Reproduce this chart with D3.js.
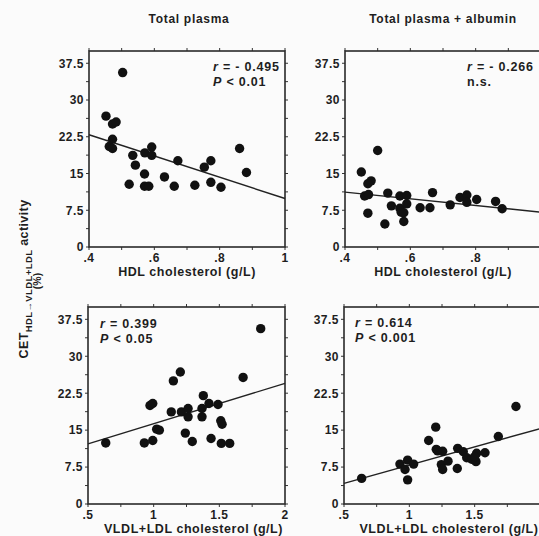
<!DOCTYPE html>
<html><head><meta charset="utf-8">
<script src="https://cdn.jsdelivr.net/npm/d3@7"></script>
<style>
html,body{margin:0;padding:0;background:#fbfbfb;}
svg{display:block;font-family:"Liberation Sans",Arial,sans-serif;font-weight:bold;}
</style></head>
<body><svg id="c" width="539" height="536"></svg>
<script>
// ---------- data ----------
const panelTitles = ["Total plasma", "Total plasma + albumin"];
const xTitleHDL = "HDL cholesterol (g/L)";
const xTitleVLDL = "VLDL+LDL cholesterol (g/L)";
const yTicks = [0, 7.5, 15, 22.5, 30, 37.5];
const hdlTicks = [0.4, 0.6, 0.8, 1];
const vldlTicks = [0.5, 1, 1.5, 2];

// Total plasma vs HDL
const tpHdlX = [.503,.452,.472,.483,.472,.462,.472,.534,.542,.523,.571,.592,.592,.570,.570,.583,.631,.672,.661,.724,.753,.773,.773,.804,.861,.882];
const tpHdlY = [35.6,26.7,25.1,25.5,22.0,20.5,20.1,18.7,16.7,12.8,19.2,20.4,18.7,14.9,12.4,12.4,14.3,17.6,12.4,12.6,16.3,17.6,13.2,12.2,20.1,15.2];
const tpHdlFit = [[0.4, 22.9], [1.0, 9.9]];
const tpHdlStats = ["r = - 0.495", "P < 0.01"];

// Total plasma + albumin vs HDL
const taHdlX = [.450,.500,.480,.470,.460,.472,.470,.522,.531,.542,.568,.589,.568,.572,.580,.580,.589,.630,.660,.668,.722,.752,.773,.773,.803,.861,.881];
const taHdlY = [15.3,19.7,13.5,12.9,10.4,10.7,6.9,4.7,11.0,8.4,10.4,10.5,7.9,7.1,7.0,5.2,8.8,8.0,8.0,11.1,8.6,10.1,10.6,9.1,9.7,9.3,7.8];
const taHdlFit = [[0.4, 11.2], [1.0, 7.1]];
const taHdlStats = ["r = - 0.266", "n.s."];

// Total plasma vs VLDL+LDL
const tpVldlX = [.635,.929,.993,.972,.993,1.023,1.043,1.134,1.150,1.203,1.211,1.241,1.262,1.262,1.294,1.368,1.378,1.368,1.421,1.437,1.490,1.511,1.521,1.515,1.579,1.681,1.815];
const tpVldlY = [12.4,12.4,12.9,20.0,20.4,15.2,15.0,18.7,25.0,26.8,18.7,14.4,19.4,17.7,12.7,19.4,22.0,17.7,20.4,13.3,20.2,16.9,16.2,12.3,12.3,25.7,35.6];
const tpVldlFit = [[0.5, 12.2], [2.0, 24.5]];
const tpVldlStats = ["r = 0.399", "P < 0.05"];

// Total plasma + albumin vs VLDL+LDL
const taVldlX = [.635,.928,.967,.987,1.033,.987,1.148,1.202,1.206,1.217,1.255,1.245,1.255,1.296,1.370,1.367,1.413,1.439,1.477,1.515,1.510,1.579,1.681,1.816,1.500];
const taVldlY = [5.2,8.1,7.0,8.9,8.1,4.9,12.9,15.6,11.1,10.8,10.7,8.0,7.0,8.7,11.3,7.2,10.6,9.4,9.1,10.3,8.6,10.4,13.7,19.8,9.6];
const taVldlFit = [[0.5, 4.2], [2.0, 15.3]];
const taVldlStats = ["r = 0.614", "P < 0.001"];

// ---------- drawing ----------
const W = 539;
const svg = d3.select("#c");
const ink = "#1e1e1e";
const fmt = d => String(d).replace(/^0\./, ".");

const panels = [
  {x0: 89, y0: 51, w: 196, h: 196, xd: [0.4, 1], xt: hdlTicks, xMinor: d3.range(0.4, 1.001, 0.1), xs: tpHdlX, ys: tpHdlY, fit: tpHdlFit, stats: tpHdlStats, sx: 213, sy: 66, xt2: xTitleHDL, xtOff: 0},
  {x0: 345, y0: 51, w: 196, h: 196, xd: [0.4, 1], xt: hdlTicks, xMinor: d3.range(0.4, 1.001, 0.1), xs: taHdlX, ys: taHdlY, fit: taHdlFit, stats: taHdlStats, sx: 467, sy: 66, xt2: xTitleHDL, xtOff: 0},
  {x0: 88, y0: 307, w: 197, h: 197, xd: [0.5, 2], xt: vldlTicks, xMinor: d3.range(0.5, 2.001, 0.25), xs: tpVldlX, ys: tpVldlY, fit: tpVldlFit, stats: tpVldlStats, sx: 100, sy: 323, xt2: xTitleVLDL, xtOff: 7},
  {x0: 344, y0: 307, w: 196, h: 197, xd: [0.5, 2], xt: vldlTicks, xMinor: d3.range(0.5, 2.001, 0.25), xs: taVldlX, ys: taVldlY, fit: taVldlFit, stats: taVldlStats, sx: 355, sy: 322, xt2: xTitleVLDL, xtOff: 7}
];
const yMinor = d3.range(0, 40.001, 3.75);

panels.forEach(p => {
  const g = svg.append("g").attr("transform", `translate(${p.x0},${p.y0})`);
  const x = d3.scaleLinear().domain(p.xd).range([0, p.w]);
  const y = d3.scaleLinear().domain([0, 40]).range([p.h, 0]);

  const tk = 3;
  const axStyle = s => s.attr("stroke", "#333").attr("stroke-width", 1);
  g.selectAll(".tb").data(p.xMinor).join("line").attr("x1", d => x(d)).attr("x2", d => x(d)).attr("y1", p.h).attr("y2", p.h + tk).call(axStyle);
  g.selectAll(".tt").data(p.xMinor).join("line").attr("x1", d => x(d)).attr("x2", d => x(d)).attr("y1", 0).attr("y2", -tk).call(axStyle);
  g.selectAll(".tl").data(yMinor).join("line").attr("y1", d => y(d)).attr("y2", d => y(d)).attr("x1", 0).attr("x2", -tk).call(axStyle);
  g.selectAll(".tr").data(yMinor).join("line").attr("y1", d => y(d)).attr("y2", d => y(d)).attr("x1", p.w).attr("x2", p.w + tk).call(axStyle);

  g.append("rect").attr("x", 0).attr("y", 0).attr("width", p.w).attr("height", p.h)
    .attr("fill", "none").attr("stroke", "#2a2a2a").attr("stroke-width", 1.6);

  g.selectAll(".yl").data(yTicks).join("text")
    .attr("x", -5).attr("y", d => y(d)).attr("dy", "0.36em")
    .attr("text-anchor", "end").attr("font-size", 12).attr("letter-spacing", 0.5).attr("fill", ink).text(d => d);
  // only labels that fall inside the window (reference crops the last one on the right panels)
  g.selectAll(".xl").data(p.xt.filter(d => p.x0 + x(d) < W - 4)).join("text")
    .attr("x", d => x(d)).attr("y", p.h + 15)
    .attr("text-anchor", "middle").attr("font-size", 12).attr("letter-spacing", 0.5).attr("fill", ink).text(fmt);

  g.append("text").attr("x", p.w / 2 + p.xtOff).attr("y", p.h + 29)
    .attr("text-anchor", "middle").attr("font-size", 12.5).attr("letter-spacing", 0.55).attr("fill", ink).text(p.xt2);

  g.append("line")
    .attr("x1", x(p.fit[0][0])).attr("y1", y(p.fit[0][1]))
    .attr("x2", x(p.fit[1][0])).attr("y2", y(p.fit[1][1]))
    .attr("stroke", "#222").attr("stroke-width", 1.4);

  g.selectAll(".pt").data(p.xs.map((v, i) => [v, p.ys[i]])).join("circle")
    .attr("cx", d => x(d[0])).attr("cy", d => y(d[1])).attr("r", 4.7).attr("fill", "#111");

  p.stats.forEach((s, i) => {
    const t = svg.append("text").attr("x", p.sx).attr("y", p.sy + i * 15).attr("dy", "0.36em")
      .attr("font-size", 12.5).attr("letter-spacing", 0.8).attr("fill", ink);
    const m = s.match(/^([rP])(.*)$/);
    if (m) {
      t.append("tspan").attr("font-style", "italic").text(m[1]);
      t.append("tspan").text(m[2]);
    } else t.text(s);
  });
});

svg.append("text").attr("x", 189).attr("y", 19).attr("dy", "0.36em").attr("text-anchor", "middle")
  .attr("font-size", 12).attr("letter-spacing", 0.7).attr("fill", ink).text(panelTitles[0]);
svg.append("text").attr("x", 443).attr("y", 19).attr("dy", "0.36em").attr("text-anchor", "middle")
  .attr("font-size", 12).attr("letter-spacing", 0.7).attr("fill", ink).text(panelTitles[1]);

const yt = svg.append("text").attr("transform", "translate(28,279) rotate(-90)")
  .attr("text-anchor", "middle").attr("font-size", 12.5).attr("letter-spacing", 0.4).attr("fill", ink);
yt.append("tspan").text("CET");
yt.append("tspan").attr("font-size", 9.5).attr("dy", 4).text("HDL\u2192VLDL+LDL");
yt.append("tspan").attr("dy", -4).text(" activity");
svg.append("text").attr("transform", "translate(41,281) rotate(-90)")
  .attr("text-anchor", "middle").attr("font-size", 10.5).attr("fill", ink).text("(%)");
</script></body></html>
